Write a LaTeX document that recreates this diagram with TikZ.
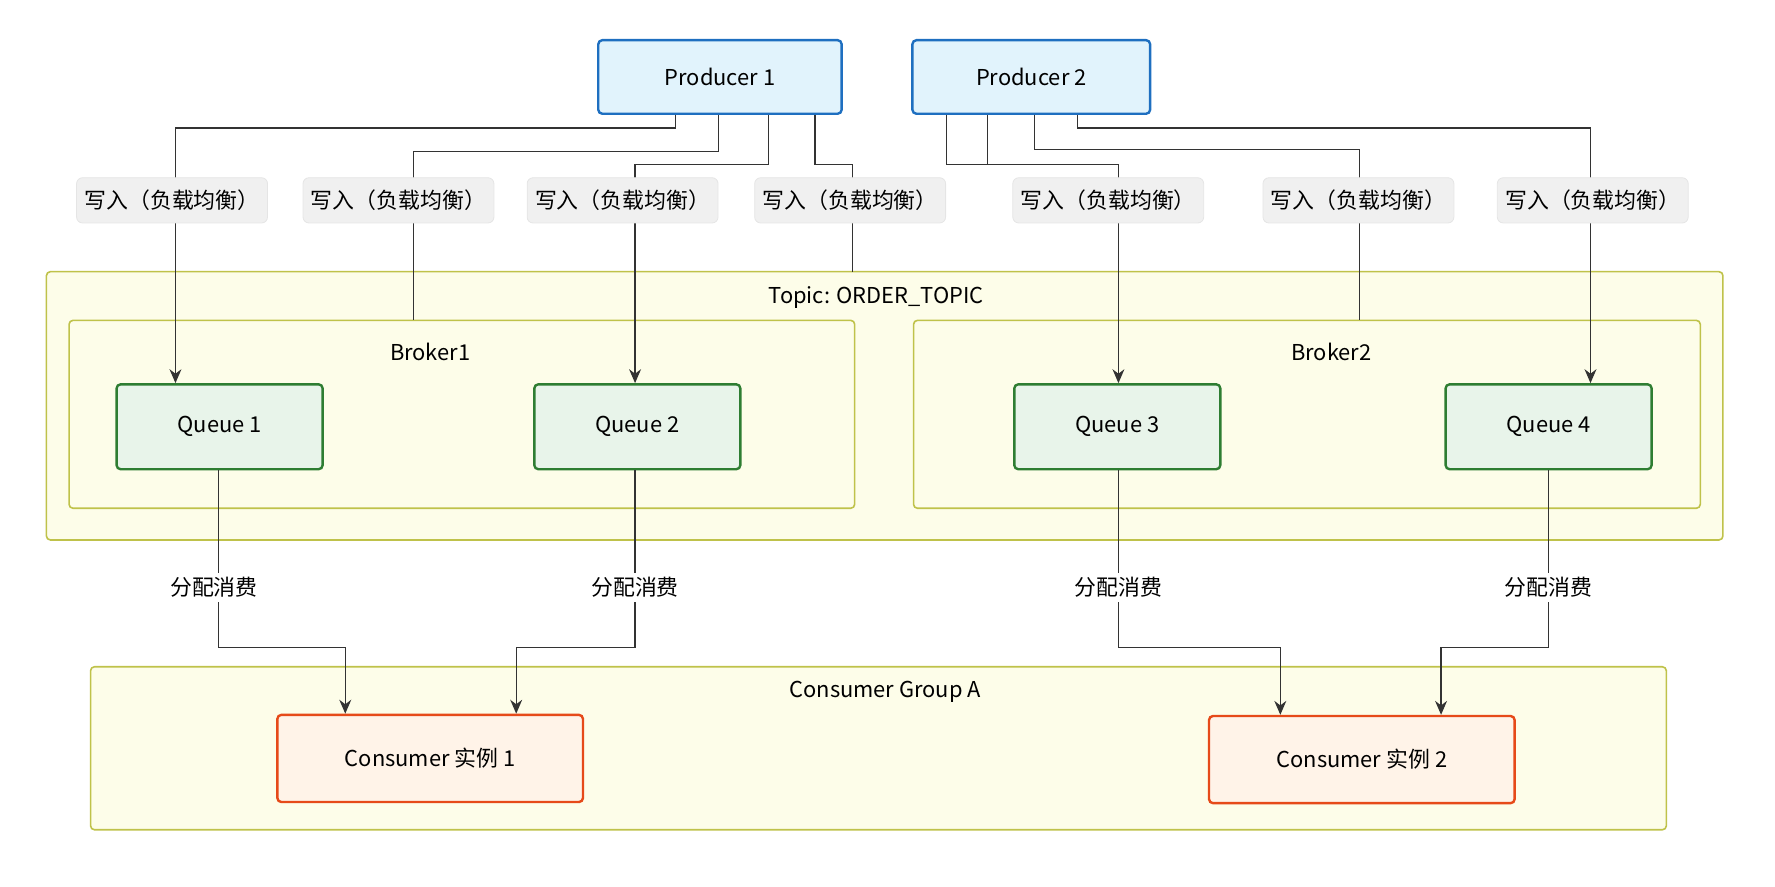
\documentclass[tikz,border=0pt]{standalone}
\usepackage{fontspec}
\setmainfont{Noto Sans CJK SC}
\usetikzlibrary{arrows.meta,positioning}
\definecolor{prodfill}{HTML}{E1F3FC}
\definecolor{proddraw}{HTML}{1E6FC0}
\definecolor{queuefill}{HTML}{E8F4EA}
\definecolor{queuedraw}{HTML}{2E7D32}
\definecolor{consfill}{HTML}{FFF3E8}
\definecolor{consdraw}{HTML}{E64A19}
\definecolor{groupfill}{HTML}{FDFDE9}
\definecolor{groupdraw}{HTML}{BFC24A}
\tikzset{
    producer/.style={rectangle,rounded corners=2pt,draw=proddraw,fill=prodfill,line width=1.2pt,minimum width=4.3cm,minimum height=1.3cm},
    queue/.style={rectangle,rounded corners=2pt,draw=queuedraw,fill=queuefill,line width=1.2pt,minimum width=3.64cm,minimum height=1.5cm},
    consumer/.style={rectangle,rounded corners=2pt,draw=consdraw,fill=consfill,line width=1.2pt,minimum width=5.4cm,minimum height=1.54cm},
    group/.style={rectangle,rounded corners=2pt,draw=groupdraw,fill=groupfill,line width=0.8pt},
    wlabel/.style={rectangle,rounded corners=3pt,fill=black!6,draw=black!10,minimum height=0.8cm,inner xsep=4pt},
    clabel/.style={fill=white,inner sep=2pt},
    flow/.style={-{Stealth[length=7pt,width=6pt]},semithick,black!80},
    plain/.style={semithick,black!80}
}

\begin{document}
\begin{tikzpicture}[x=0.02cm,y=-0.02cm,font=\fontsize{11}{13}\selectfont]
    \useasboundingbox (0,0) rectangle (1568,783);

    % groups
    \draw[group] (41,240) rectangle (1522,477);
    \node (topic) at (774,263) {Topic: ORDER\_TOPIC};
    \draw[group] (61,283) rectangle (755,449);
    \node (b1label) at (380,311) {Broker1};
    \draw[group] (807,283) rectangle (1502,449);
    \node (b2label) at (1176,311) {Broker2};
    \draw[group] (80,589) rectangle (1472,733);
    \node (cglabel) at (782,611) {Consumer Group A};
    \coordinate (topic top) at (753,240);
    \coordinate (broker1 top) at (365,283);
    \coordinate (broker2 top) at (1201,283);

    % nodes
    \node[producer] (prod 1) at (636,68)  {Producer 1};
    \node[producer,minimum width=4.2cm] (prod 2) at (911,68)  {Producer 2};
    \node[queue]    (queue 1) at (194,377)  {Queue 1};
    \node[queue]    (queue 2) at (563,377)  {Queue 2};
    \node[queue]    (queue 3) at (987,377)  {Queue 3};
    \node[queue]    (queue 4) at (1368,377) {Queue 4};
    \node[consumer] (cons 1) at (380,670)  {Consumer 实例 1};
    \node[consumer] (cons 2) at (1203,671) {Consumer 实例 2};

    % writes
    \draw[flow]  (prod 1.south -| 597,0) |- (155,113) -- (queue 1.north -| 155,0);
    \draw[plain] (prod 1.south -| 635,0) |- (365,134) -- (broker1 top);
    \draw[flow]  (prod 1.south -| 679,0) |- (561,145) -- (queue 2.north -| 561,0);
    \draw[plain] (prod 1.south -| 720,0) |- (753,145) -- (topic top);
    \draw[flow]  (prod 2.south -| 836,0) |- (988,145) -- (queue 3.north -| 988,0);
    \draw[plain] (prod 2.south -| 872,0) |- (988,145);
    \draw[plain] (prod 2.south -| 914,0) |- (1201,132) -- (broker2 top);
    \draw[flow]  (prod 2.south -| 952,0) |- (1405,113) -- (queue 4.north -| 1405,0);

    \foreach \x/\n in {152/1,352/2,550/3,751/4,979/5,1200/6,1407/7}
        \node[wlabel] (write \n) at (\x,177) {写入（负载均衡）};

    % consumes
    \draw[flow] (queue 1.south -| 193,0) |- (305,572) -- (cons 1.north -| 305,0);
    \draw[flow] (queue 2.south -| 561,0) |- (456,572) -- (cons 1.north -| 456,0);
    \draw[flow] (queue 3.south -| 988,0) |- (1131,572) -- (cons 2.north -| 1131,0);
    \draw[flow] (queue 4.south -| 1368,0) |- (1273,572) -- (cons 2.north -| 1273,0);

    \foreach \x/\n in {189/1,561/2,988/3,1368/4}
        \node[clabel] (assign \n) at (\x,519) {分配消费};

\end{tikzpicture}
\end{document}
